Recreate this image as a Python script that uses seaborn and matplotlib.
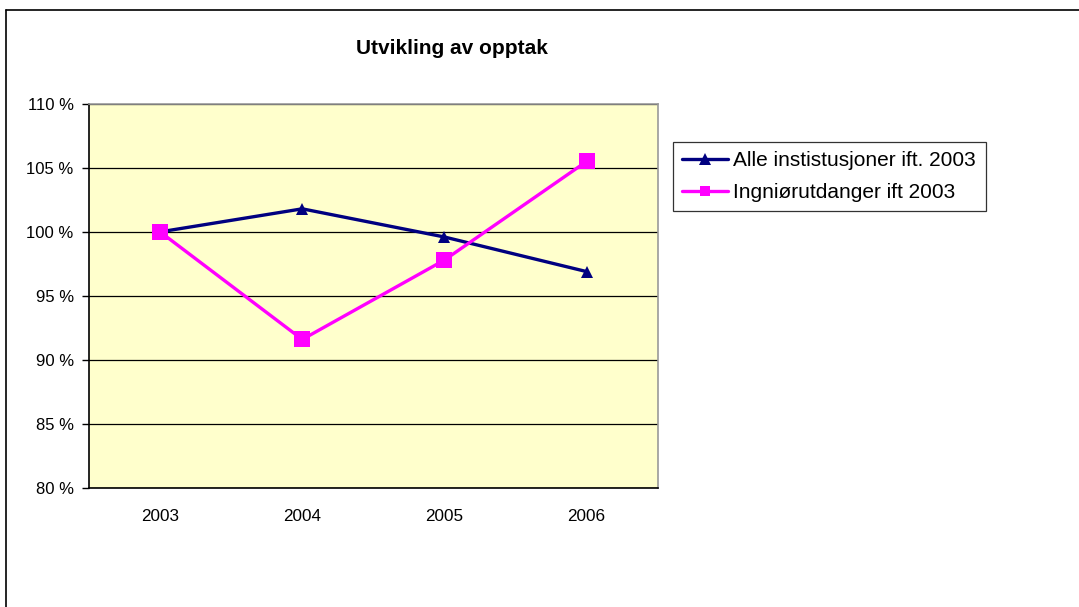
import pandas as pd
import matplotlib
matplotlib.use("Agg")
import matplotlib.pyplot as plt
import seaborn as sns
from matplotlib.ticker import FixedLocator, FuncFormatter
from matplotlib.lines import Line2D

# data
years = [2003, 2004, 2005, 2006]
alle = [100.0, 101.8, 99.6, 96.9]
ingenior = [100.0, 91.6, 97.8, 105.5]
series_names = ["Alle instistusjoner ift. 2003", "Ingniørutdanger ift 2003"]

df = pd.DataFrame({
    "year": years * 2,
    "value": alle + ingenior,
    "series": [series_names[0]] * 4 + [series_names[1]] * 4,
})

sns.set_theme(style="white")
plt.rcParams["font.family"] = ["Liberation Sans", "DejaVu Sans"]
plt.rcParams["text.color"] = "black"
plt.rcParams["xtick.color"] = "black"
plt.rcParams["ytick.color"] = "black"

fig = plt.figure(figsize=(10.79, 6.07), dpi=100)
ax = fig.add_axes([0.0825, 0.196, 0.527, 0.633])
ax.set_facecolor("#FFFFCC")

palette = {series_names[0]: "#000080", series_names[1]: "#FF00FF"}
markers = {series_names[0]: "^", series_names[1]: "s"}
sns.lineplot(data=df, x="year", y="value", hue="series", style="series",
             palette=palette, markers=markers, dashes=False, linewidth=2.4,
             ax=ax, legend=False)
for line in ax.lines:
    if line.get_marker() == "s":
        line.set_markersize(11.3)
    else:
        line.set_markersize(8.6)
    line.set_markeredgewidth(0)

ax.set_xlim(2002.5, 2006.5)
ax.set_ylim(80, 110)
ax.set_xlabel("")
ax.set_ylabel("")

# gridlines
ax.yaxis.set_major_locator(FixedLocator([80, 85, 90, 95, 100, 105, 110]))
ax.yaxis.set_major_formatter(FuncFormatter(lambda v, p: f"{v:.0f} %"))
ax.grid(axis="y", color="black", linewidth=0.9)
ax.grid(axis="x", visible=False)

ax.set_xticks(years)
ax.set_xticklabels([str(y) for y in years])
ax.xaxis.set_minor_locator(FixedLocator([2002.5, 2003.5, 2004.5, 2005.5, 2006.5]))
ax.tick_params(axis="x", which="major", length=0, pad=15, labelsize=12.3,
               labelcolor="black")
ax.tick_params(axis="x", which="minor", length=5, width=1, color="black", direction="out")
ax.tick_params(axis="y", which="major", length=5, width=1, color="black",
               direction="out", labelsize=12, pad=6, left=True, labelcolor="black")

for side in ["left", "bottom"]:
    ax.spines[side].set_color("black")
    ax.spines[side].set_linewidth(1.2)
for side in ["top", "right"]:
    ax.spines[side].set_color("#999999")
    ax.spines[side].set_linewidth(1.2)

handles = [
    Line2D([], [], color="#000080", marker="^", markersize=8.6, linewidth=2.4, markeredgewidth=0),
    Line2D([], [], color="#FF00FF", marker="s", markersize=7.5, linewidth=2.4, markeredgewidth=0),
]
leg = fig.legend(handles, series_names, loc="upper left",
                 bbox_to_anchor=(673 / 1079, 1 - 142 / 607), fontsize=15,
                 frameon=True, fancybox=False, edgecolor="black",
                 handlelength=2.2, handletextpad=0.25, borderpad=0.45,
                 labelspacing=0.6, borderaxespad=0)
leg.get_frame().set_linewidth(0.9)
for t in leg.get_texts():
    t.set_color("black")

fig.text(452 / 1079, 1 - 48 / 607, "Utvikling av opptak", ha="center",
         va="center", fontsize=15, fontweight="bold", color="black")

# outer chart border
fig.add_artist(Line2D([6 / 1079, 6 / 1079], [0, 1 - 10 / 607],
                      transform=fig.transFigure, color="black", linewidth=1.2))
fig.add_artist(Line2D([6 / 1079, 1], [1 - 10 / 607, 1 - 10 / 607],
                      transform=fig.transFigure, color="black", linewidth=1.2))

fig.savefig("out.png", dpi=100, facecolor="white")
